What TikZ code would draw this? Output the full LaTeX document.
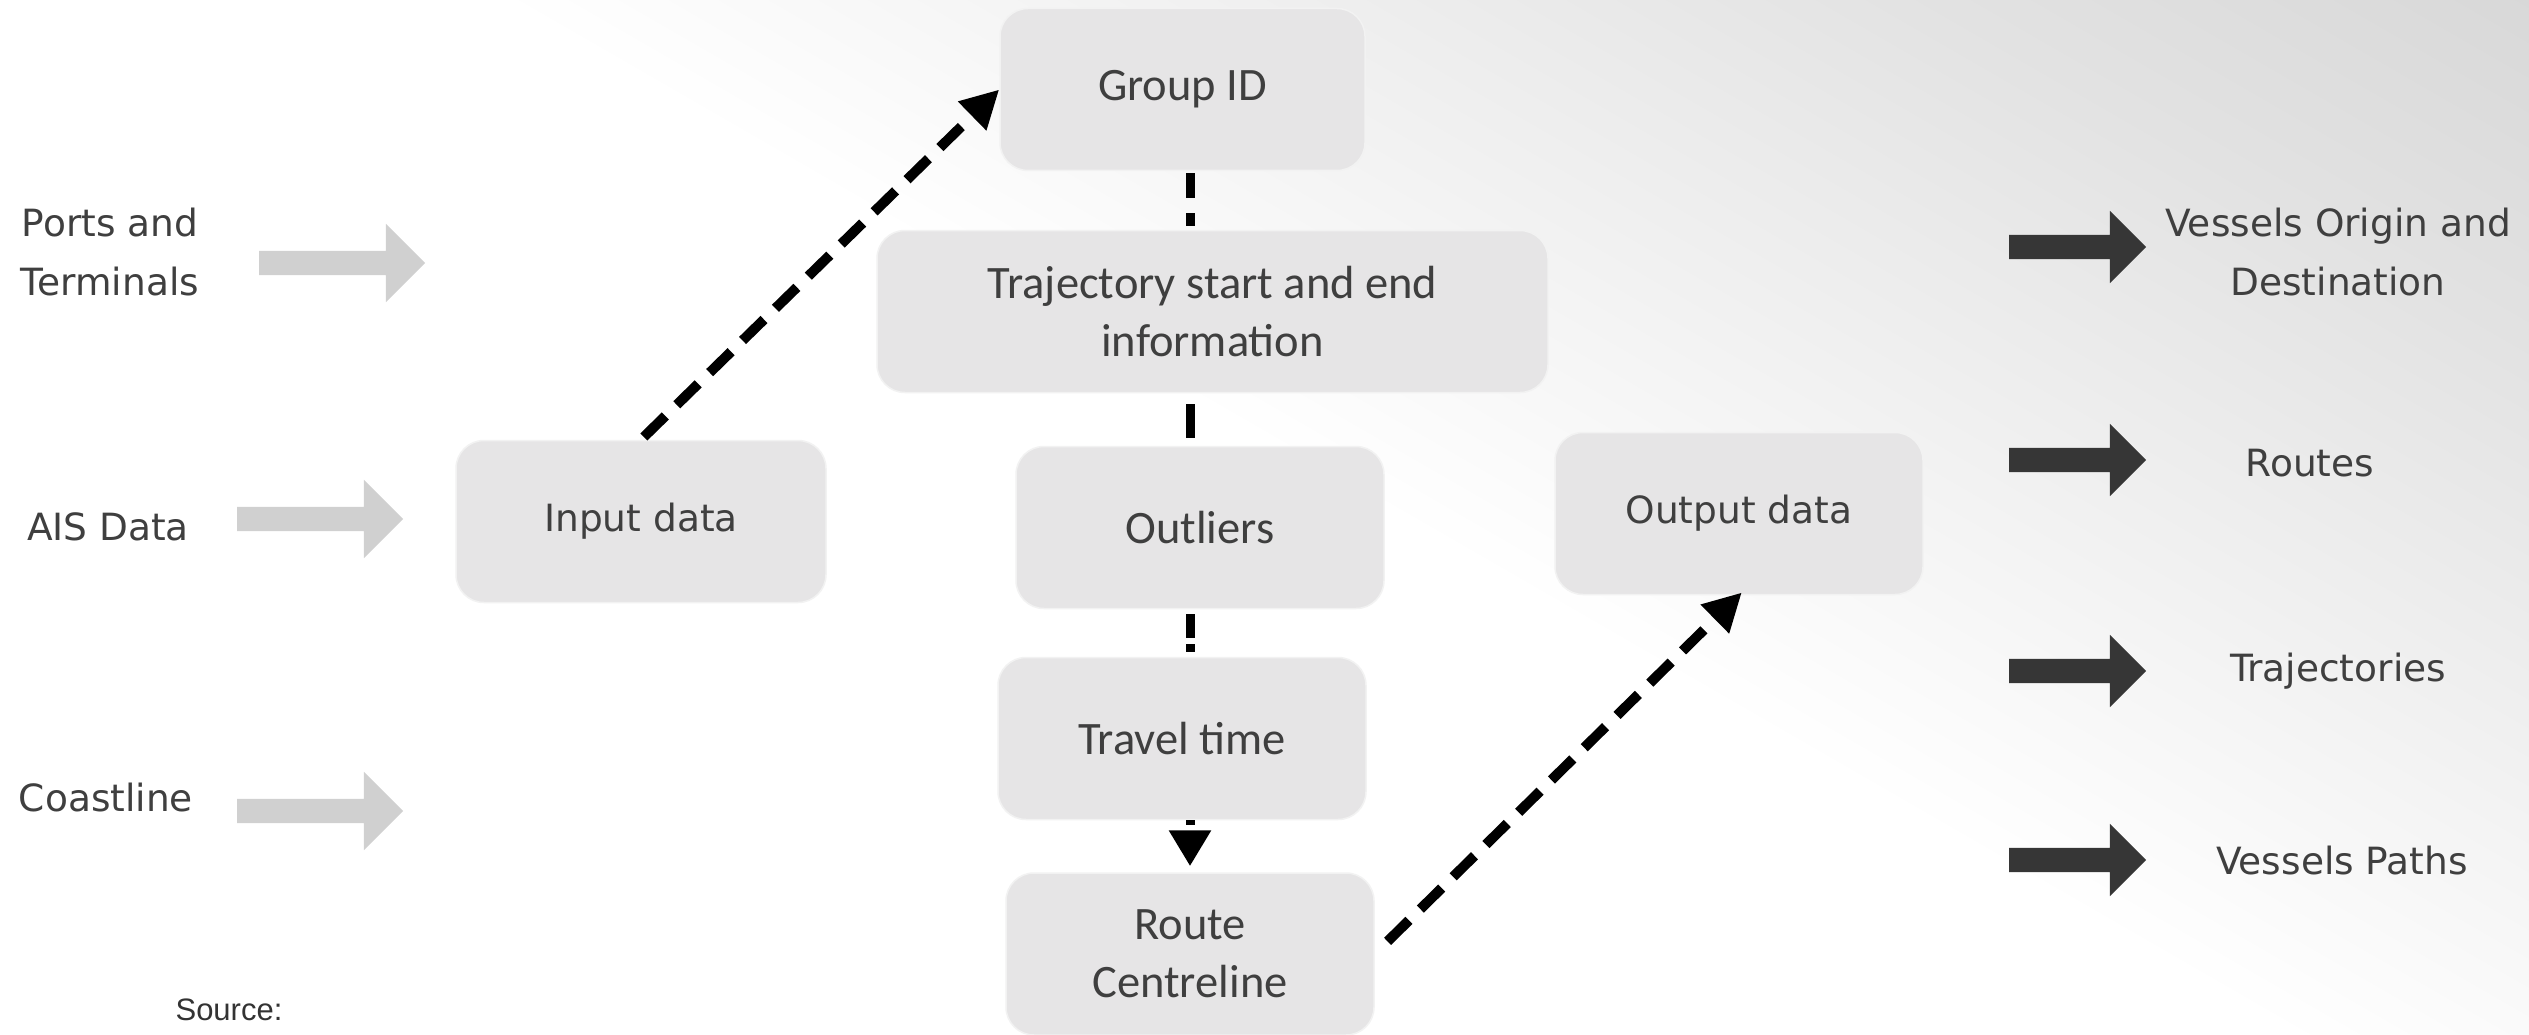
\documentclass[tikz,border=0pt]{standalone}
\usepackage{fontspec}
\newfontfamily\boxfont{Carlito}
\newfontfamily\lblfont{DejaVu Sans}
\newfontfamily\srcfont{Liberation Sans}
\usetikzlibrary{arrows.meta,shapes.arrows,calc}
\definecolor{bggray}{HTML}{E2E2E2}
\definecolor{bgdeep}{HTML}{C8C8C8}
\definecolor{boxfill}{HTML}{E6E5E6}
\definecolor{txt}{HTML}{3F3F3F}
\definecolor{lightarr}{HTML}{D0D0D0}
\definecolor{darkarr}{HTML}{363636}
\pgfdeclareverticalshading{bgfade}{100bp}{color(0bp)=(white); color(52bp)=(white); color(75bp)=(bggray); color(100bp)=(bgdeep)}
\begin{document}
\begin{tikzpicture}[x=1pt,y=-1pt,
  stepbox/.style={rounded corners=28pt, fill=boxfill, draw=white!50!boxfill, line width=1.5pt,
    text=txt, font=\boxfont\fontsize{46.5}{58}\selectfont, align=center, inner sep=0pt,
    minimum width=368pt, minimum height=162pt},
  iobox/.style={stepbox, font=\lblfont\fontsize{37.5}{58}\selectfont},
  lbl/.style={text=txt, font=\lblfont\fontsize{37.5}{59}\selectfont, align=center, inner sep=0pt},
  inarrow/.style={single arrow, fill=lightarr, draw=none, inner xsep=0pt, inner ysep=12pt,
    minimum height=166pt, single arrow head extend=27pt},
  outarrow/.style={single arrow, fill=darkarr, draw=none, inner xsep=0pt, inner ysep=12pt,
    minimum height=137pt, single arrow head extend=24pt},
  flow/.style={draw=black, line width=10pt, dash pattern=on 30pt off 16pt,
    -{Triangle[length=38pt,width=38pt]}},
  vconn/.style={draw=black, line width=9pt}
]
\useasboundingbox (0,0) rectangle (2529,1035);
\shade[shading=bgfade, shading angle=-30] (0,0) rectangle (2529,1035);

% process boxes
\node[stepbox, minimum width=365pt] (gid) at (1182.5,89.5) {Group ID};
\node[stepbox, minimum width=671pt] (traj) at (1212.5,311.5) {Trajectory start and end\\information};
\node[stepbox] (outl) at (1200,527.5) {Outliers};
\node[stepbox] (travel) at (1182,738.5) {Travel time};
\node[stepbox] (route) at (1190,954) {Route\\Centreline};
\node[iobox, minimum width=370pt] (input) at (641,521.5) {Input data};
\node[iobox] (output) at (1739,513.5) {Output data};

% inputs
\node[lbl] (ports) at (110,252) {Ports and\\Terminals};
\node[lbl] (ais) at (108,527) {AIS Data};
\node[lbl] (coast) at (106,798) {Coastline};
\node[inarrow] (a1) at (336,263) {};
\node[inarrow] (a2) at (314,519) {};
\node[inarrow] (a3) at (314,811) {};

% outputs
\node[outarrow] (b1) at (2071.5,247) {};
\node[outarrow] (b2) at (2071.5,460) {};
\node[outarrow] (b3) at (2071.5,671) {};
\node[outarrow] (b4) at (2071.5,860) {};
\node[lbl] (od) at (2338,252) {Vessels Origin and\\Destination};
\node[lbl] (routes) at (2310,463) {Routes};
\node[lbl] (trajs) at (2338,671) {Trajectories};
\node[lbl] (paths) at (2342,861) {Vessels Paths};

% source
\node[inner sep=0pt, text=black!80, font=\srcfont\fontsize{31}{36}\selectfont] (src) at (229,1010) {Source:};

% connectors
\coordinate (spine) at (1190,0);
\draw[flow, shorten <=4pt] (input.north) -- (gid.west);
\draw[flow, shorten <=18pt, shorten >=-4pt] (route.east) -- (output.south);
\draw[vconn, dash pattern=on 25pt off 15pt, shorten <=2pt, shorten >=4pt] (gid.south -| spine) -- (traj.north -| spine);
\draw[vconn, shorten <=11pt, shorten >=8pt] (traj.south -| spine) -- (outl.north -| spine);
\draw[vconn, dash pattern=on 24pt off 6pt, shorten <=5pt, shorten >=5pt] (outl.south -| spine) -- (travel.north -| spine);
\draw[vconn, dash pattern=on 5pt off 30pt, shorten >=6pt, -{Triangle[length=36pt,width=40pt]}] (travel.south -| spine) -- (route.north -| spine);
\end{tikzpicture}
\end{document}
